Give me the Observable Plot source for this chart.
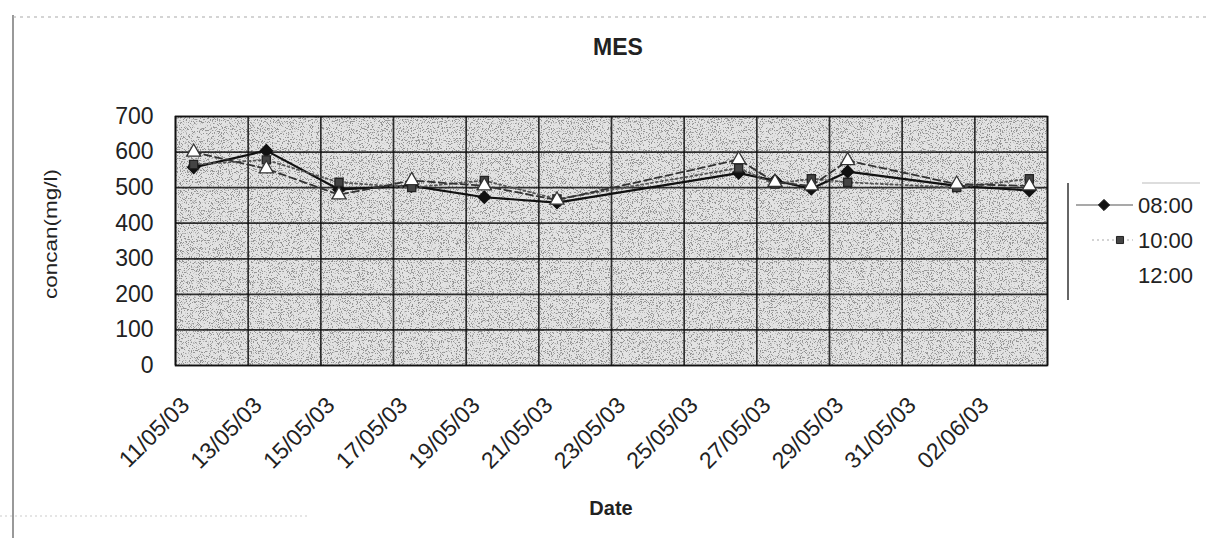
<!DOCTYPE html>
<html>
<head>
<meta charset="utf-8">
<script src="https://cdn.jsdelivr.net/npm/d3@7"></script>
<script src="https://cdn.jsdelivr.net/npm/@observablehq/plot@0.6"></script>
<style>
  html, body { margin: 0; padding: 0; background: #fff; }
  #chart { width: 1208px; height: 538px; overflow: hidden; }
</style>
</head>
<body>
<div id="chart"></div>
<script>
// Sampling dates (dd/mm/yy) and MES concentrations (mg/l) for each sampling hour
const dates   = ["11/05/03", "13/05/03", "15/05/03", "17/05/03", "19/05/03", "21/05/03",
                 "26/05/03", "27/05/03", "28/05/03", "29/05/03", "01/06/03", "03/06/03"];
const mes0800 = [557, 604, 495, 505, 473, 458, 541, 520, 497, 545, 505, 492];
const mes1000 = [565, 578, 515, 500, 520, 468, 555, 510, 525, 515, 500, 525];
const mes1200 = [600, 553, 480, 520, 505, 465, 579, 515, 505, 576, 510, 505];
const seriesNames = ["08:00", "10:00", "12:00"];

// Axis ticks
const yTicks = [0, 100, 200, 300, 400, 500, 600, 700];
const xTickLabels = ["11/05/03", "13/05/03", "15/05/03", "17/05/03", "19/05/03", "21/05/03",
                     "23/05/03", "25/05/03", "27/05/03", "29/05/03", "31/05/03", "02/06/03"];

const parse = d3.utcParse("%d/%m/%y");
const fmt = d3.utcFormat("%d/%m/%y");

// Long table: one row per (hour, date); each day's value sits in the middle of its day
const seriesValues = [mes0800, mes1000, mes1200];
const rows = [];
seriesNames.forEach((name, i) => {
  dates.forEach((d, j) => rows.push({series: name, date: d3.utcHour.offset(parse(d), 12), value: seriesValues[i][j]}));
});

const xTicks = xTickLabels.map(parse);
const xStart = xTicks[0];
const xEnd = d3.utcDay.offset(xTicks[xTicks.length - 1], 2);
const gridDates = [...xTicks, xEnd];

const look = {
  "08:00": {stroke: "#111", width: 2.2, dash: null,  symbol: "diamond2", r: 5.5, fill: "#111", mstroke: "#111"},
  "10:00": {stroke: "#555", width: 1.8, dash: "2,3", symbol: "square",   r: 4.6, fill: "#444", mstroke: "#222"},
  "12:00": {stroke: "#333", width: 1.8, dash: "7,4", symbol: "triangle", r: 5.2, fill: "#fff", mstroke: "#333"}
};

const marks = [
  Plot.frame({fill: "#e2e2e2"}),
  Plot.gridY(yTicks, {stroke: "#111", strokeOpacity: 0.85, strokeWidth: 1.7}),
  Plot.gridX(gridDates, {stroke: "#111", strokeOpacity: 0.85, strokeWidth: 1.7}),
  Plot.frame({stroke: "#111", strokeWidth: 1.6}),
  Plot.axisY(yTicks, {tickSize: 0, tickPadding: 22, fontSize: 23, label: null}),
  Plot.axisX(xTicks, {tickSize: 0, tickPadding: 0, tickRotate: -45, tickFormat: fmt, fontSize: 23, label: null, dx: 10, dy: 36})
];
for (const name of seriesNames) {
  const s = look[name];
  const data = rows.filter(r => r.series === name);
  marks.push(Plot.line(data, {x: "date", y: "value", stroke: s.stroke, strokeWidth: s.width, strokeDasharray: s.dash}));
  marks.push(Plot.dot(data, {x: "date", y: "value", symbol: s.symbol, r: s.r, fill: s.fill, stroke: s.mstroke, strokeWidth: 1.3}));
}

const chart = Plot.plot({
  width: 1208,
  height: 538,
  marginLeft: 175,
  marginRight: 161,
  marginTop: 116,
  marginBottom: 173,
  style: {fontFamily: "'Liberation Sans', Arial, sans-serif", color: "#222", background: "#fff", overflow: "visible"},
  x: {type: "utc", domain: [xStart, xEnd]},
  y: {domain: [0, 700]},
  marks
});

const svg = d3.select(chart);

// Speckled grey fill of the plot area
const defs = svg.insert("defs", ":first-child");
const f = defs.append("filter").attr("id", "grain").attr("x", 0).attr("y", 0).attr("width", 1).attr("height", 1);
f.append("feTurbulence").attr("type", "fractalNoise").attr("baseFrequency", 0.9).attr("numOctaves", 2).attr("seed", 7).attr("result", "noise");
f.append("feColorMatrix").attr("in", "noise").attr("type", "matrix")
  .attr("values", "0 0 0 0 0.3  0 0 0 0 0.3  0 0 0 0 0.3  12 0 0 0 -6.6").attr("result", "dots");
f.append("feComposite").attr("in", "dots").attr("in2", "SourceAlpha").attr("operator", "in").attr("result", "clipped");
const merge = f.append("feMerge");
merge.append("feMergeNode").attr("in", "SourceGraphic");
merge.append("feMergeNode").attr("in", "clipped");
const firstFrame = chart.querySelector('[aria-label="frame"]');
if (firstFrame) firstFrame.setAttribute("filter", "url(#grain)");

const font = "'Liberation Sans', Arial, sans-serif";

// Chart title and axis titles
svg.append("text").attr("x", 618).attr("y", 55).attr("text-anchor", "middle")
  .attr("font-family", font).attr("font-size", 23).attr("font-weight", "bold").attr("fill", "#222").text("MES");
svg.append("text").attr("x", 611).attr("y", 515).attr("text-anchor", "middle")
  .attr("font-family", font).attr("font-size", 20).attr("font-weight", "bold").attr("fill", "#222").text("Date");
svg.append("text").attr("transform", "translate(57,234) rotate(-90)").attr("text-anchor", "middle")
  .attr("font-family", font).attr("font-size", 19).attr("fill", "#222")
  .attr("textLength", 130).attr("lengthAdjust", "spacingAndGlyphs").text("concan(mg/l)");

// Outer chart border
svg.append("line").attr("x1", 13).attr("x2", 13).attr("y1", 15).attr("y2", 538)
  .attr("stroke", "#777").attr("stroke-width", 1.5);
svg.append("line").attr("x1", 13).attr("x2", 1208).attr("y1", 17).attr("y2", 17)
  .attr("stroke", "#aaa").attr("stroke-width", 1.2).attr("stroke-dasharray", "3,4");
svg.append("line").attr("x1", 0).attr("x2", 310).attr("y1", 516).attr("y2", 516)
  .attr("stroke", "#ccc").attr("stroke-width", 1.2).attr("stroke-dasharray", "2,3");

// Legend
const lg = svg.append("g").attr("font-family", font).attr("font-size", 22).attr("fill", "#222").attr("text-anchor", "start");
lg.append("line").attr("x1", 1068).attr("x2", 1068).attr("y1", 183).attr("y2", 300).attr("stroke", "#333").attr("stroke-width", 1.5);
lg.append("line").attr("x1", 1142).attr("x2", 1200).attr("y1", 183).attr("y2", 183).attr("stroke", "#bbb").attr("stroke-width", 1);
const symbolType = {diamond2: d3.symbolDiamond2, square: d3.symbolSquare, triangle: d3.symbolTriangle};
seriesNames.forEach((name, i) => {
  const s = look[name];
  const y = 205 + i * 35;
  const g = lg.append("g").attr("transform", `translate(0,${y})`);
  if (i < 2) {
    g.append("line").attr("x1", i === 0 ? 1076 : 1092).attr("x2", 1133).attr("y1", 0).attr("y2", 0)
      .attr("stroke", i === 0 ? "#555" : "#aaa").attr("stroke-width", 1.2).attr("stroke-dasharray", i === 0 ? null : "2,3");
    g.append("path").attr("transform", `translate(${i === 0 ? 1104 : 1120},0)`)
      .attr("d", d3.symbol(symbolType[s.symbol], i === 0 ? 80 : 50)())
      .attr("fill", s.fill).attr("stroke", s.mstroke);
  }
  g.append("text").attr("x", 1138).attr("y", 0).attr("dy", "0.35em").text(name);
});

document.getElementById("chart").appendChild(chart);
</script>
</body>
</html>
